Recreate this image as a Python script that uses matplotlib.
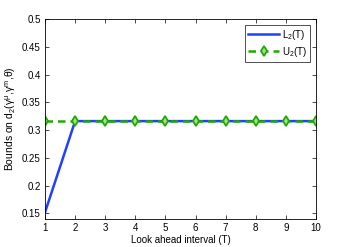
import numpy as np
import matplotlib
matplotlib.use("Agg")
import matplotlib.pyplot as plt

T = [1, 2, 3, 4, 5, 6, 7, 8, 9, 10]
L2 = [0.152, 0.3162, 0.3162, 0.3162, 0.3162, 0.3162, 0.3162, 0.3162, 0.3162, 0.3162]
U2 = [0.3162] * 10

plt.rcParams['font.family'] = ['Liberation Sans', 'DejaVu Sans']
plt.rcParams['font.size'] = 7
plt.rcParams['mathtext.fontset'] = 'custom'
plt.rcParams['mathtext.rm'] = 'Liberation Sans'
plt.rcParams['mathtext.it'] = 'Liberation Sans'

fig = plt.figure(figsize=(3.49, 2.47), dpi=100)
ax = fig.add_axes([45/349, 1 - 219/247, (316-45)/349, (219-19)/247])

ax.plot(T, L2, color='#2040ff', lw=1.8, label='L$_2$(T)')
ax.plot(T, U2, color='#1faa00', lw=1.8, ls=(0, (3, 2)), marker='d', ms=5,
        mfc='#a8e08a', mec='#1faa00', mew=1.3, label='U$_2$(T)')

ax.set_xlim(1, 10)
ax.set_ylim(0.14, 0.5)
ax.set_xticks(T)
ax.set_yticks([0.15, 0.2, 0.25, 0.3, 0.35, 0.4, 0.45, 0.5])
ax.set_yticklabels(['0.15', '0.2', '0.25', '0.3', '0.35', '0.4', '0.45', '0.5'])
ax.tick_params(direction='in', top=True, right=True, length=3, width=0.5, pad=3)
for s in ax.spines.values():
    s.set_linewidth(0.6)

ax.set_xlabel('Look ahead interval (T)', labelpad=1)
ax.set_ylabel(r'Bounds on d$_2$($\gamma^{\mu}$,$\gamma^{m}$,$\theta$)', labelpad=3,
              fontsize=7.5)

leg = ax.legend(loc='upper right', fancybox=False, edgecolor='black',
                handlelength=3.2, borderpad=0.3, labelspacing=0.3,
                handletextpad=0.3, borderaxespad=0.6)
leg.get_frame().set_linewidth(0.6)

fig.savefig('out.png', dpi=100)
